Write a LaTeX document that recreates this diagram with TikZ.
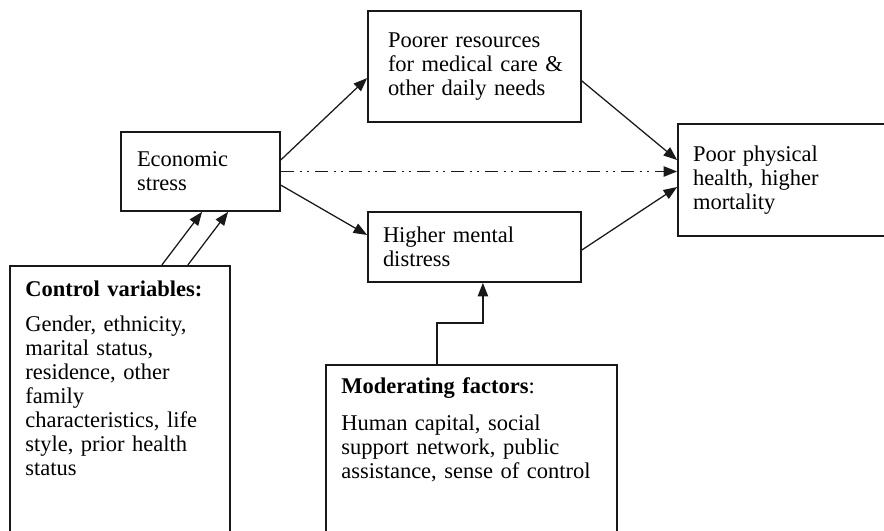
\documentclass[tikz,border=0pt]{standalone}
\usepackage{fontspec}
\setmainfont{Liberation Serif}
\usepackage{tikz}
\usetikzlibrary{arrows.meta, positioning, calc}
\definecolor{linecol}{RGB}{25, 25, 25}
\tikzset{
    block/.style={
        rectangle,
        align=left,
        draw=linecol,
        line width=1.2pt,
        inner ysep=0pt,
        font=\fontsize{16}{17}\selectfont
    },
    plaintext/.style={
        anchor=base west,
        align=left,
        inner sep=0pt,
        text width=6cm,
        font=\fontsize{16}{17}\selectfont
    },
    arrow/.style={
        line width=0.9pt,
        -{Triangle[length=0.34cm, width=0.26cm]},
        color=linecol
    },
    dashdotdot/.style={
        arrow,
        dash pattern=on 0.33cm off 0.14cm on 0.05cm off 0.14cm on 0.05cm off 0.14cm
    }
}

\begin{document}
\begin{tikzpicture}

    \useasboundingbox (0,0) rectangle (22.1,-13.275);

    % --- main path ---
    \node (econ) [block, text width=3.175cm, inner xsep=0.4cm, minimum height=1.975cm] at (5.0125,-4.2875) {Economic\\stress};
    \node (poorer) [block, text width=4.325cm, inner xsep=0.5cm, minimum height=2.775cm] at (11.8625,-1.6625) {Poorer resources\\\mbox{for medical care \&}\\other daily needs};
    \node (mental) [block, text width=4.575cm, inner xsep=0.375cm, minimum height=1.75cm] at (11.8625,-6.175) {Higher mental\\distress};
    \node (health) [block, text width=5.25cm, inner xsep=0.375cm, minimum height=2.8cm] at (19.95,-4.5) {Poor physical\\health, higher\\mortality};

    % --- boxes at the bottom (cut by the page edge) ---
    \node (control) [block, anchor=north west, inner sep=0pt, minimum width=5.5cm, minimum height=7.5cm] at (0.225,-6.625) {};
    \node (control_txt) [plaintext] at (0.625,-7.4) {\textbf{Control variables:}\\[0.3cm]Gender, ethnicity,\\marital status,\\residence, other\\family\\characteristics, life\\style, prior health\\status};

    \node (moder) [block, anchor=north west, inner sep=0pt, minimum width=7.275cm, minimum height=5cm] at (8.125,-9.1) {};
    \node (moder_txt) [plaintext, text width=7cm] at (8.525,-9.825) {\textbf{Moderating factors}:\\[0.35cm]Human capital, social\\support network, public\\assistance, sense of control};

    % --- connections ---
    \draw [arrow] ([yshift=0.29cm]econ.east) -- ([yshift=-0.29cm]poorer.west);
    \draw [arrow] ([yshift=-0.34cm]econ.east) -- ([yshift=0.3cm]mental.west);
    \draw [dashdotdot] (econ.east) -- (econ.east -| health.west);
    \draw [arrow] ([yshift=-0.36cm]poorer.east) -- ([yshift=0.5cm]health.west);
    \draw [arrow] ([yshift=-0.075cm]mental.east) -- ([yshift=-0.175cm]health.west);

    % control variables -> economic stress
    \draw [arrow] ([xshift=1.05cm]control.north) -- ([xshift=0.04cm]econ.south);
    \draw [arrow] ([xshift=1.7cm]control.north) -- ([xshift=0.69cm]econ.south);

    % moderating factors -> mental distress
    \draw [arrow] ([xshift=-0.86cm]moder.north) -- ++(0,1.025) -| ([xshift=0.21cm]mental.south);

\end{tikzpicture}
\end{document}
